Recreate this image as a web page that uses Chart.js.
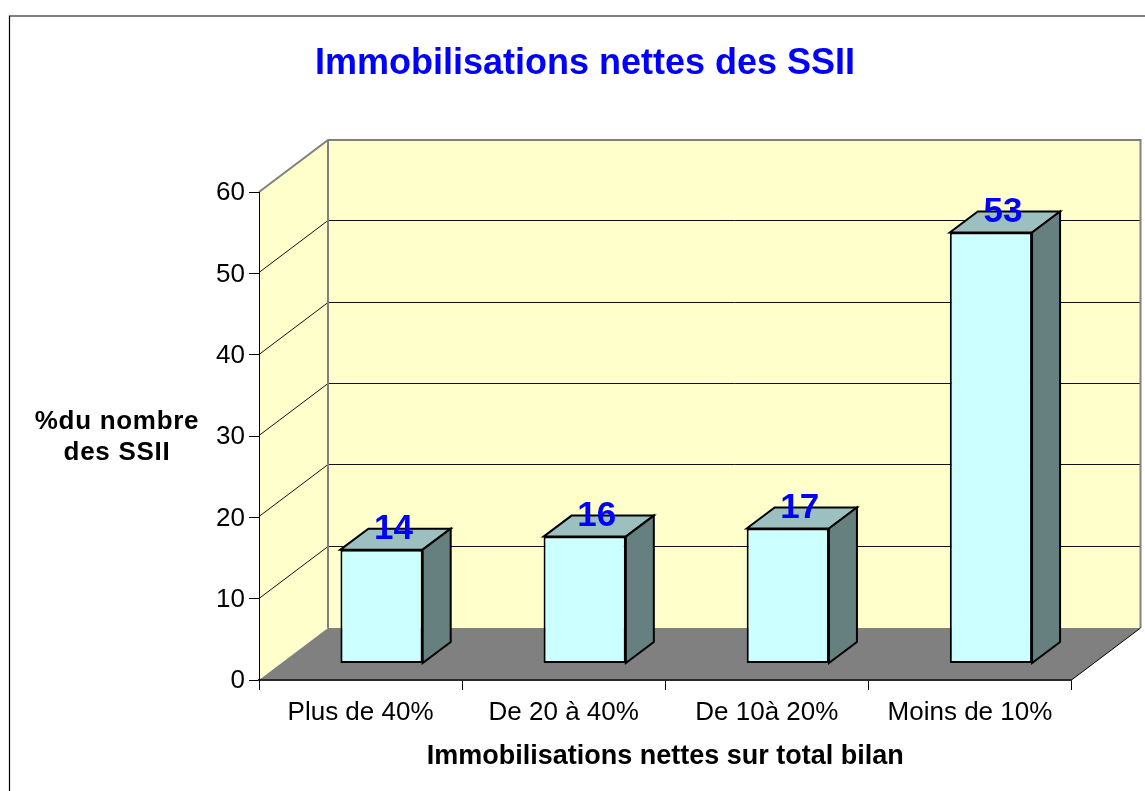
<!DOCTYPE html>
<html><head><meta charset="utf-8">
<style>html,body{margin:0;padding:0;background:#fff}#w{position:relative;width:1145px;height:791px}</style>
<script src="https://cdn.jsdelivr.net/npm/chart.js@4"></script>
</head><body><div id="w"><canvas id="c" width="1145" height="791"></canvas></div>
<script>
const categories = ['Plus de 40%', 'De 20 à 40%', 'De 10à 20%', 'Moins de 10%'];
const values = [14, 15.6, 16.6, 53];
const valueLabels = ['14', '16', '17', '53'];
const yTicks = [0, 10, 20, 30, 40, 50, 60];
const titleText = 'Immobilisations nettes des SSII';
const xTitleText = 'Immobilisations nettes sur total bilan';
const yTitleLines = ['%du nombre', 'des SSII'];

const FONT = '"Liberation Sans", Arial, sans-serif';
const WALL = '#FFFFCC', FLOOR = '#808080', EDGE = '#808080';
const DX = 69, DY = -52;        // depth of the 3D box
const BX = 21, BY = -16.5;      // offset of bars inside the box
const BDX = 28, BDY = -21;      // depth of a bar

function poly(ctx, pts, fill, stroke, lw) {
  ctx.beginPath();
  pts.forEach((p, i) => i ? ctx.lineTo(p[0], p[1]) : ctx.moveTo(p[0], p[1]));
  ctx.closePath();
  if (fill) { ctx.fillStyle = fill; ctx.fill(); }
  if (stroke) { ctx.strokeStyle = stroke; ctx.lineWidth = lw; ctx.lineJoin = 'miter'; ctx.stroke(); }
}

const box3d = {
  id: 'box3d',
  beforeDraw(chart) {
    const { ctx, scales: { x, y } } = chart;
    const L = x.left, R = x.right, B = y.getPixelForValue(0), T = y.getPixelForValue(60);
    ctx.save();
    // outer frame
    ctx.strokeStyle = '#000'; ctx.lineWidth = 1.2;
    ctx.beginPath(); ctx.moveTo(9.5, 800); ctx.lineTo(9.5, 16); ctx.lineTo(1146, 16); ctx.stroke();
    // walls
    poly(ctx, [[L, T], [L + DX, T + DY], [L + DX, B + DY], [L, B]], WALL);
    poly(ctx, [[L + DX, T + DY], [R + DX, T + DY], [R + DX, B + DY], [L + DX, B + DY]], WALL);
    // gridlines
    ctx.strokeStyle = '#111'; ctx.lineWidth = 1;
    yTicks.slice(1, -1).forEach(v => {
      const p = Math.round(y.getPixelForValue(v)) - 0.5;
      ctx.beginPath(); ctx.moveTo(L, p); ctx.lineTo(L + DX, p + DY); ctx.lineTo(R + DX, p + DY); ctx.stroke();
    });
    // wall edges
    ctx.strokeStyle = EDGE; ctx.lineWidth = 2;
    ctx.beginPath(); ctx.moveTo(L, T); ctx.lineTo(L + DX, T + DY); ctx.lineTo(R + DX, T + DY); ctx.lineTo(R + DX, B + DY);
    ctx.moveTo(L + DX, T + DY); ctx.lineTo(L + DX, B + DY); ctx.stroke();
    // floor
    poly(ctx, [[L, B], [L + DX, B + DY], [R + DX, B + DY], [R, B]], FLOOR);
    ctx.strokeStyle = '#000'; ctx.lineWidth = 1;
    ctx.beginPath(); ctx.moveTo(R, B); ctx.lineTo(R + DX, B + DY); ctx.stroke();
    // vertical axis title
    ctx.fillStyle = '#000'; ctx.font = 'bold 26px ' + FONT; ctx.textAlign = 'center'; ctx.textBaseline = 'middle';
    ctx.letterSpacing = '0.7px';
    yTitleLines.forEach((t, i) => ctx.fillText(t, 117, 422 + i * 31));
    ctx.restore();
  },
  beforeDatasetsDraw(chart) {
    const { ctx } = chart;
    ctx.save();
    ctx.translate(BX, BY);
    chart.getDatasetMeta(0).data.forEach(b => {
      const l = b.x - b.width / 2, r = b.x + b.width / 2;
      poly(ctx, [[l, b.y], [l + BDX, b.y + BDY], [r + BDX, b.y + BDY], [r, b.y]], '#9CC0BF', '#000', 2);
      poly(ctx, [[r, b.y], [r + BDX, b.y + BDY], [r + BDX, b.base + BDY], [r, b.base]], '#667F7F', '#000', 2);
    });
  },
  afterDatasetsDraw(chart) {
    const { ctx } = chart;
    ctx.restore();
    ctx.save();
    ctx.fillStyle = '#0000FF'; ctx.font = 'bold 35px ' + FONT; ctx.textAlign = 'center'; ctx.textBaseline = 'middle';
    chart.getDatasetMeta(0).data.forEach((b, i) => {
      ctx.fillText(valueLabels[i], b.x + BX + 12, b.y + BY - 20);
    });
    ctx.restore();
  }
};

new Chart(document.getElementById('c'), {
  type: 'bar',
  data: { labels: categories, datasets: [{
    data: values, backgroundColor: '#CCFFFF', borderColor: '#000', borderWidth: 2, borderSkipped: false,
    categoryPercentage: 1, barPercentage: 0.405, clip: false
  }] },
  plugins: [box3d],
  options: {
    responsive: false, animation: false, devicePixelRatio: 1,
    layout: { autoPadding: false, padding: { left: 98.5, right: 73.5, top: 0, bottom: 0 } },
    plugins: {
      legend: { display: false }, tooltip: { enabled: false },
      title: { display: true, text: titleText, color: '#0000FF',
        font: { family: FONT, size: 36, weight: 'bold', lineHeight: 1.2 },
        padding: { top: 42, bottom: 106.8 } }
    },
    scales: {
      x: {
        afterFit(s) { s.height = 111; },
        grid: { offset: true, drawOnChartArea: false, color: '#000', tickLength: 10, tickColor: '#000' },
        border: { color: '#2a2a2a', width: 2 },
        ticks: { color: '#000', padding: 7, maxRotation: 0, font: { family: FONT, size: 26 } },
        title: { display: true, text: xTitleText, color: '#000', font: { family: FONT, size: 27, weight: 'bold', lineHeight: 1.2 }, padding: { top: 0, bottom: 18 } }
      },
      y: {
        min: 0, max: 60,
        afterFit(s) { s.width = 160.5; },
        afterBuildTicks(s) { s.ticks = yTicks.map(v => ({ value: v })); },
        grid: { drawOnChartArea: false, color: '#000', tickLength: 10, tickColor: '#000' },
        border: { color: '#000', width: 1 },
        ticks: { color: '#000', padding: 4, labelOffset: 1, font: { family: FONT, size: 26 } }
      }
    }
  }
});
</script></body></html>
